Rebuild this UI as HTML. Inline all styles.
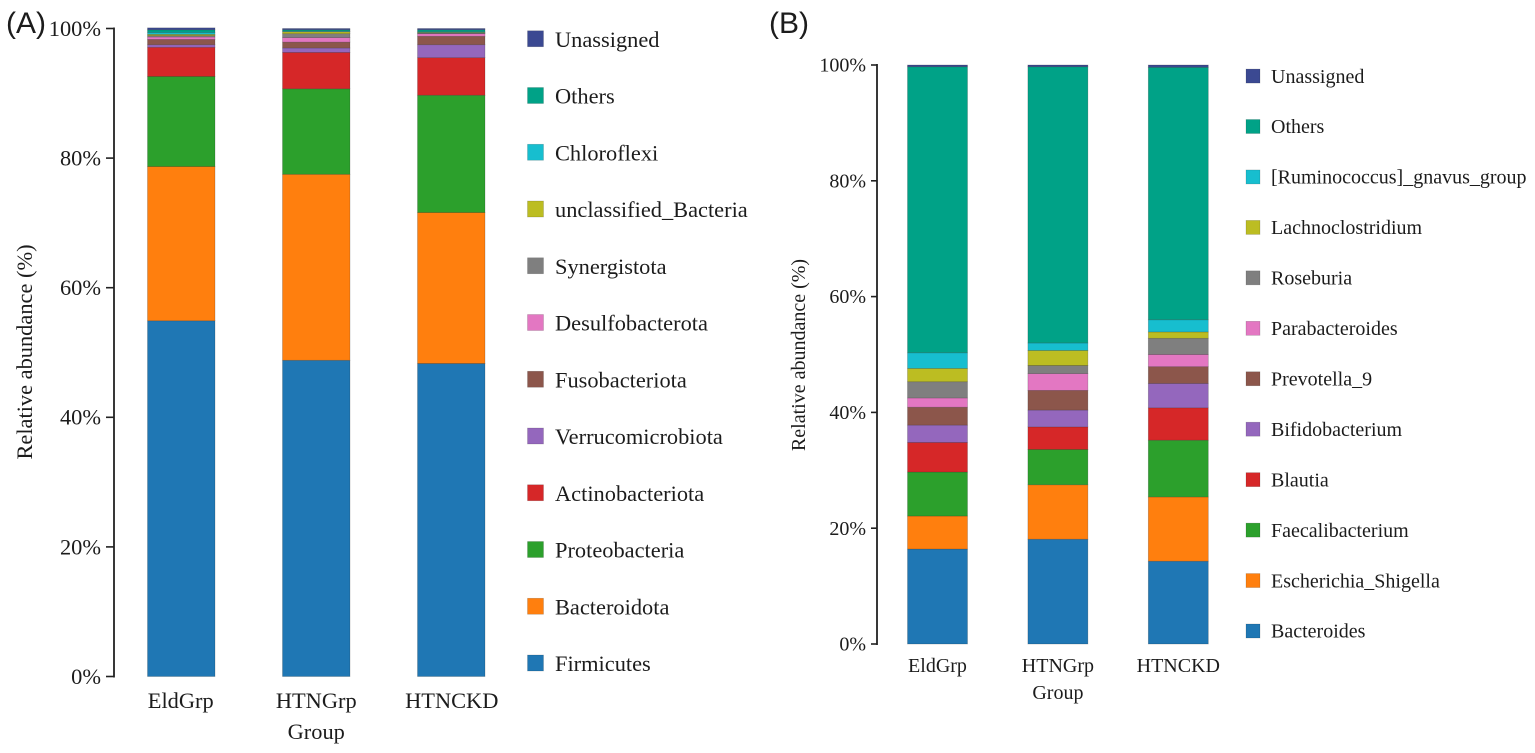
<!DOCTYPE html>
<html lang="en">
<head>
<meta charset="utf-8">
<title>Relative abundance stacked bars</title>
<style>
html,body{margin:0;padding:0;background:#fff;width:1535px;height:753px;overflow:hidden}
svg{display:block}
text{font-family:"Liberation Serif",serif;fill:#1c1c1c}
.panel-tag{font-family:"Liberation Sans",sans-serif;font-size:30px}
</style>
</head>
<body>
<svg id="chart" xmlns="http://www.w3.org/2000/svg" width="1535" height="753" viewBox="0 0 1535 753">
<text class="panel-tag" x="6" y="33">(A)</text>
<text class="panel-tag" x="769" y="33">(B)</text>
</svg>
<script>
const groups = ['EldGrp', 'HTNGrp', 'HTNCKD'];
const tickLabels = [0, 20, 40, 60, 80, 100];
const colors = ['#1f77b4','#ff7f0e','#2ca02c','#d62728','#9467bd','#8c564b','#e377c2','#7f7f7f','#bcbd22','#17becf','#00a287','#3b4992'];

const phylaNames = ['Firmicutes','Bacteroidota','Proteobacteria','Actinobacteriota','Verrucomicrobiota','Fusobacteriota','Desulfobacterota','Synergistota','unclassified_Bacteria','Chloroflexi','Others','Unassigned'];
const phylaEldGrp = [54.9,23.8,13.9,4.5,0.4,0.8,0.4,0.2,0.2,0.3,0.4,0.3];
const phylaHTNGrp = [48.8,28.7,13.2,5.6,0.7,0.9,0.7,0.6,0.3,0.1,0.2,0.2];
const phylaHTNCKD = [48.3,23.3,18.1,5.8,2.0,1.3,0.4,0.1,0.1,0.1,0.3,0.2];

const genusNames = ['Bacteroides','Escherichia_Shigella','Faecalibacterium','Blautia','Bifidobacterium','Prevotella_9','Parabacteroides','Roseburia','Lachnoclostridium','[Ruminococcus]_gnavus_group','Others','Unassigned'];
const genusEldGrp = [16.4,5.7,7.6,5.1,3.0,3.1,1.6,2.8,2.3,2.7,49.4,0.3];
const genusHTNGrp = [18.1,9.4,6.1,3.9,2.9,3.4,2.9,1.4,2.6,1.3,47.7,0.3];
const genusHTNCKD = [14.3,11.1,9.8,5.6,4.2,2.9,2.1,2.8,1.1,2.1,43.6,0.4];

const svg = document.getElementById('chart');
const NS = 'http://www.w3.org/2000/svg';

function make(tag, props, parent) {
  const el = document.createElementNS(NS, tag);
  for (const k in props) el.setAttribute(k, props[k]);
  parent.appendChild(el);
  return el;
}

function drawPanel(p) {
  const yScale = v => p.y0 + (p.y100 - p.y0) * v / 100;
  const xScale = i => p.barStart + i * p.barStep;
  const root = make('g', {}, svg);
  
  

  p.series.forEach((vals, g) => {
    const barGroup = make('g', {}, root);
    
    
    let cum = 0;
    vals.forEach((v, s) => {
      const top = yScale(cum + v), bottom = yScale(cum);
      const seg = make('rect', {x: xScale(g), y: top, width: p.barW, height: bottom - top, fill: colors[s], stroke: 'rgba(30,30,30,0.28)', 'stroke-width': 0.7}, barGroup);
      
      
      cum += v;
    });
  });

  const axis = make('g', {}, root);
  
  
  make('line', {x1: p.axisX, x2: p.axisX, y1: yScale(100) - 1, y2: yScale(0) + 1, stroke: '#222', 'stroke-width': 1.8}, axis);
  tickLabels.forEach(t => {
    const y = yScale(t);
    make('line', {x1: p.axisX - p.tickLen, x2: p.axisX, y1: y, y2: y, stroke: '#222', 'stroke-width': 1.6}, axis);
    const lab = make('text', {x: p.axisX - p.tickLen - 5, y: y + p.font * 0.33, 'text-anchor': 'end', 'font-size': p.font}, axis);
    lab.textContent = t + '%';
    
    
  });

  const title = make('text', {transform: 'translate(' + p.titleX + ',' + p.titleY + ') rotate(-90)', 'text-anchor': 'middle', 'font-size': p.font}, root);
  title.textContent = 'Relative abundance (%)';
  
  

  groups.forEach((g, i) => {
    const lab = make('text', {x: xScale(i) + p.barW / 2 + p.labelShift[i], y: p.catY, 'text-anchor': 'middle', 'font-size': p.font}, root);
    lab.textContent = g;
    
    
  });
  const xt = make('text', {x: xScale(1) + p.barW / 2, y: p.groupY, 'text-anchor': 'middle', 'font-size': p.font}, root);
  xt.textContent = 'Group';
  
  

  const legend = make('g', {}, root);
  
  
  p.names.forEach((n, s) => {
    const cy = p.legendBottom - s * p.legendStep;
    const entry = make('g', {}, legend);
    
    
    make('rect', {x: p.legendX, y: cy - p.swatch / 2, width: p.swatch, height: p.swatch, fill: colors[s], stroke: 'rgba(30,30,30,0.25)', 'stroke-width': 0.6}, entry);
    const lab = make('text', {x: p.legendTextX, y: cy + p.font * 0.3 + p.legendTextDy, 'font-size': p.font}, entry);
    lab.textContent = n;
  });
}

drawPanel({
  id: 'phylum', names: phylaNames, series: [phylaEldGrp, phylaHTNGrp, phylaHTNCKD],
  y0: 676.5, y100: 28.5, barStart: 147.5, barStep: 135, barW: 67.5,
  axisX: 114, tickLen: 8, font: 22.4, titleX: 32, titleY: 352,
  catY: 708, groupY: 739, labelShift: [-0.5, 0, 0.5],
  legendX: 527.5, legendTextX: 555, legendTextDy: 1.5, swatch: 16, legendBottom: 663, legendStep: 56.75
});
drawPanel({
  id: 'genus', names: genusNames, series: [genusEldGrp, genusHTNGrp, genusHTNCKD],
  y0: 644, y100: 65, barStart: 907.5, barStep: 120.4, barW: 60,
  axisX: 877, tickLen: 6, font: 20, titleX: 805, titleY: 355,
  catY: 672, groupY: 699, labelShift: [0, 0, 0],
  legendX: 1246, legendTextX: 1271, legendTextDy: 0.7, swatch: 14, legendBottom: 631, legendStep: 50.45
});
</script>
</body>
</html>
